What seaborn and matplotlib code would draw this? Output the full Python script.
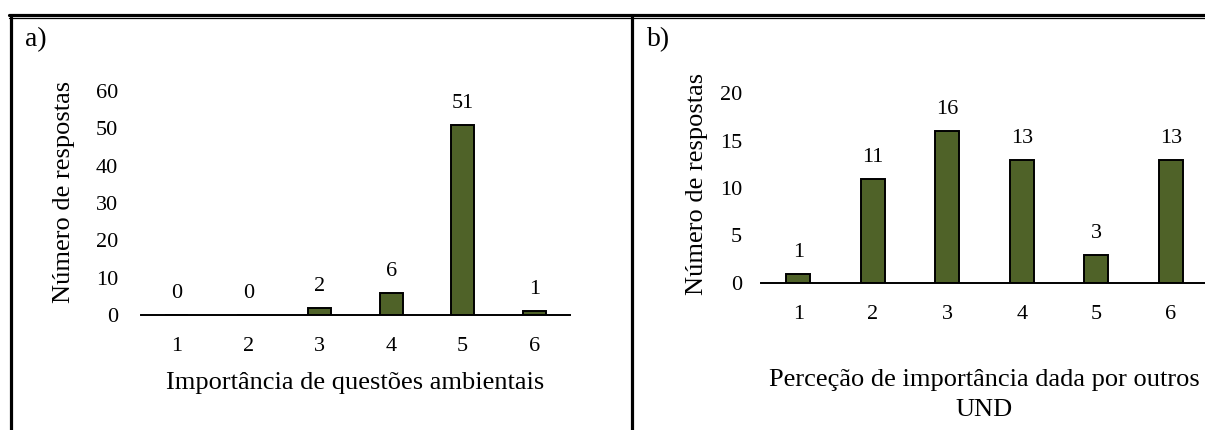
import matplotlib
matplotlib.use("Agg")
import matplotlib.pyplot as plt
from matplotlib.lines import Line2D
import seaborn as sns

# Survey responses per scale point
scale = ["1", "2", "3", "4", "5", "6"]
importancia = [0, 0, 2, 6, 51, 1]
percecao = [1, 11, 16, 13, 3, 13]

ylabel = "Número de respostas"
xlabel_a = "Importância de questões ambientais"
xlabel_b = "Perceção de importância dada por outros\nUND"

BAR = "#4F6228"
W, H = 1205, 430

sns.set_theme(style="white")
plt.rcParams["font.family"] = ["Liberation Serif", "DejaVu Serif"]
plt.rcParams["text.color"] = "black"
plt.rcParams["axes.labelcolor"] = "black"
plt.rcParams["xtick.color"] = "black"
plt.rcParams["ytick.color"] = "black"

fig = plt.figure(figsize=(W / 100, H / 100), dpi=100)


def px_axes(left, top, right, bottom):
    return fig.add_axes([left / W, 1 - bottom / H, (right - left) / W, (bottom - top) / H])


def draw_panel(ax, values, ymax, ystep, xlabel, ypad, ylab_xy, xlab_y):
    sns.barplot(x=scale, y=values, order=scale, color=BAR, edgecolor="black",
                linewidth=1.4, width=0.32, saturation=1, ax=ax)
    ax.set_xlim(-0.5, len(scale) - 0.5)
    ax.set_ylim(0, ymax)
    ax.set_yticks(range(0, ymax + 1, ystep))
    ax.bar_label(ax.containers[0], labels=[str(v) for v in values],
                 padding=8.5, fontsize=16, color="black")
    for s in ["top", "right", "left"]:
        ax.spines[s].set_visible(False)
    ax.spines["bottom"].set_color("black")
    ax.spines["bottom"].set_linewidth(1.4)
    ax.tick_params(axis="y", length=0, pad=ypad, labelsize=16, labelcolor="black")
    ax.tick_params(axis="x", length=0, pad=16, labelsize=16, labelcolor="black")
    ax.set_xlabel(xlabel, fontsize=19, linespacing=1.45, color="black")
    ax.xaxis.set_label_coords(0.5, xlab_y)
    ax.set_ylabel(ylabel, fontsize=19, color="black")
    ax.yaxis.set_label_coords(*ylab_xy)
    ax.patch.set_alpha(0)


ax_a = px_axes(141, 91, 570, 315)
draw_panel(ax_a, importancia, 60, 10, xlabel_a, 16.5, (-0.154, 0.549), -0.254)

ax_b = px_axes(761, 93, 1208, 283)
draw_panel(ax_b, percecao, 20, 5, xlabel_b, 13.5, (-0.119, 0.52), -0.453)

# Panel letters
fig.text(25 / W, 1 - 40 / H, "a)", fontsize=20, va="center", ha="left", color="black")
fig.text(647 / W, 1 - 40 / H, "b)", fontsize=20, va="center", ha="left", color="black")

# Table frame around the two panels
def hline(y, lw):
    fig.add_artist(Line2D([9 / W, 1], [1 - y / H, 1 - y / H], color="black", lw=lw))


def vline(x, lw):
    fig.add_artist(Line2D([x / W, x / W], [1 - 17 / H, 0], color="black", lw=lw))


hline(14.5, 2.3)
hline(17.8, 0.9)
vline(10.5, 2.3)
vline(631.5, 2.3)

fig.savefig("out.png", dpi=100, facecolor="white")
